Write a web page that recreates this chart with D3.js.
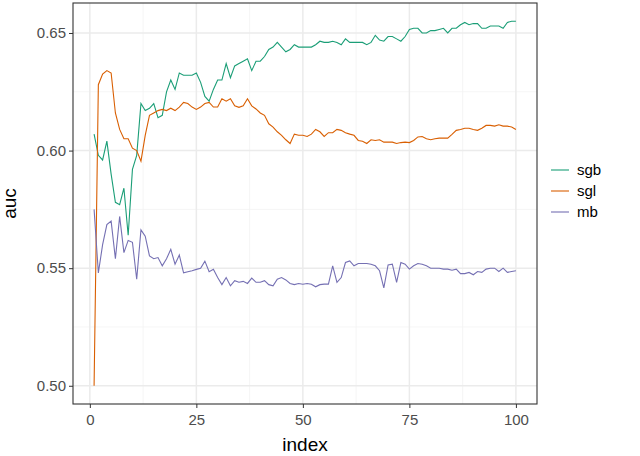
<!DOCTYPE html>
<html><head><meta charset="utf-8">
<script src="https://cdn.jsdelivr.net/npm/d3@7"></script>
<style>body{margin:0;background:#fff}</style></head>
<body><svg id="c" width="640" height="456"></svg>
<script>
const seriesNames = ["sgb","sgl","mb"];
const colors = ["#1B9E77","#D95F02","#7570B3"];
const xTicks = [0,25,50,75,100];
const yTicks = [0.50,0.55,0.60,0.65];
const sgb = [0.607,0.598,0.596,0.604,0.590,0.578,0.577,0.584,0.564,0.592,0.598,0.620,0.617,0.618,0.620,0.614,0.615,0.625,0.630,0.626,0.633,0.632,0.632,0.632,0.633,0.629,0.623,0.621,0.626,0.630,0.630,0.637,
0.631,0.636,0.637,0.638,0.639,0.634,0.638,0.638,0.640,0.643,0.644,0.646,0.644,0.642,0.643,0.645,0.644,0.644,0.644,0.644,0.645,0.6465,0.646,0.646,0.6465,0.646,0.645,0.6475,0.646,0.646,0.646,0.646,0.645,0.646,0.649,0.647,0.6465,0.6485,0.6485,0.6475,0.6465,0.6485,0.6515,0.652,0.652,0.650,0.650,0.651,0.651,0.6515,0.652,0.650,0.652,0.652,0.6535,0.6545,0.6535,0.654,0.654,0.652,0.652,0.653,0.653,0.653,0.652,0.6545,0.655,0.655];
const sgl = [0.500,0.628,0.6325,0.634,0.633,0.616,0.609,0.605,0.605,0.601,0.600,0.5955,0.6065,0.615,0.616,0.617,0.6175,0.617,0.618,0.617,0.6185,0.6205,0.620,0.6185,0.6175,0.6185,0.620,0.6205,0.6185,0.6185,0.622,0.621,
0.622,0.619,0.6184,0.619,0.622,0.619,0.6177,0.616,0.615,0.6114,0.610,0.608,0.6065,0.6046,0.603,0.607,0.6065,0.6065,0.606,0.607,0.609,0.608,0.606,0.6076,0.6076,0.609,0.6086,0.6076,0.607,0.6065,0.6043,0.604,0.603,0.6046,0.6043,0.6046,0.6036,0.6036,0.6036,0.603,0.6034,0.6036,0.6034,0.6043,0.6058,0.606,0.605,0.6046,0.605,0.6053,0.6053,0.6053,0.6069,0.6086,0.609,0.6095,0.6095,0.609,0.6086,0.6095,0.6107,0.6107,0.6104,0.611,0.6104,0.6104,0.610,0.609];
const mb = [0.575,0.548,0.560,0.5685,0.570,0.554,0.572,0.5566,0.5618,0.561,0.5453,0.5663,0.5636,0.5552,0.554,0.5545,0.551,0.554,0.558,0.5517,0.5556,0.548,0.5485,0.5489,0.5495,0.550,0.553,0.5485,0.5495,0.546,0.543,0.546,
0.5425,0.5447,0.544,0.5444,0.5435,0.5458,0.544,0.544,0.5447,0.543,0.5425,0.5453,0.546,0.545,0.5435,0.543,0.5435,0.5432,0.5435,0.5432,0.5421,0.543,0.5432,0.5432,0.551,0.544,0.546,0.5524,0.5531,0.551,0.552,0.552,0.552,0.5517,0.551,0.5489,0.5416,0.5514,0.5517,0.544,0.5524,0.5517,0.5496,0.551,0.552,0.5517,0.551,0.550,0.550,0.550,0.5496,0.5496,0.5491,0.5496,0.5477,0.5477,0.5482,0.5472,0.5486,0.5482,0.5496,0.550,0.550,0.5486,0.550,0.5482,0.5486,0.5489];
const data = [sgb, sgl, mb];

const svg = d3.select("#c");
const L=73,R=537,T=3,B=404;
const x = d3.scaleLinear().domain([-3.95,104.95]).range([L,R]);
const y = d3.scaleLinear().domain([0.49225,0.66275]).range([B,T]);
const g = svg.append("g");
const xMinor = [12.5,37.5,62.5,87.5], yMinor=[0.525,0.575,0.625];
g.selectAll(".vm").data(xMinor).enter().append("line").attr("x1",d=>x(d)).attr("x2",d=>x(d)).attr("y1",T).attr("y2",B).attr("stroke","#f2f2f2").attr("stroke-width",0.8);
g.selectAll(".hm").data(yMinor).enter().append("line").attr("y1",d=>y(d)).attr("y2",d=>y(d)).attr("x1",L).attr("x2",R).attr("stroke","#f2f2f2").attr("stroke-width",0.8);
g.selectAll(".vM").data(xTicks).enter().append("line").attr("x1",d=>x(d)).attr("x2",d=>x(d)).attr("y1",T).attr("y2",B).attr("stroke","#ebebeb").attr("stroke-width",1.5);
g.selectAll(".hM").data(yTicks).enter().append("line").attr("y1",d=>y(d)).attr("y2",d=>y(d)).attr("x1",L).attr("x2",R).attr("stroke","#ebebeb").attr("stroke-width",1.5);

const line = d3.line().x((d,i)=>x(i+1)).y(d=>y(d));
data.forEach((s,k)=>{
  svg.append("path").attr("d",line(s)).attr("fill","none").attr("stroke",colors[k]).attr("stroke-width",1.1);
});
svg.append("rect").attr("x",L).attr("y",T).attr("width",R-L).attr("height",B-T).attr("fill","none").attr("stroke","#333").attr("stroke-width",1.1);

const xa = svg.append("g").attr("transform",`translate(0,${B})`).call(d3.axisBottom(x).tickValues(xTicks).tickSize(4).tickFormat(d3.format("d")));
const ya = svg.append("g").attr("transform",`translate(${L},0)`).call(d3.axisLeft(y).tickValues(yTicks).tickSize(4).tickFormat(d3.format(".2f")));
[xa,ya].forEach(a=>{a.select(".domain").remove();a.selectAll("line").attr("stroke","#333");a.selectAll("text").attr("fill","#4d4d4d").style("font-family","Arial, Liberation Sans, sans-serif").style("font-size","15px");});
xa.selectAll("text").attr("dy","0.95em");

svg.append("text").attr("x",(L+R)/2).attr("y",451).attr("text-anchor","middle").style("font-family","Arial, Liberation Sans, sans-serif").style("font-size","19px").text("index");
svg.append("text").attr("transform",`translate(16,${(T+B)/2}) rotate(-90)`).attr("text-anchor","middle").style("font-family","Arial, Liberation Sans, sans-serif").style("font-size","19px").text("auc");

seriesNames.forEach((n,k)=>{
  const yy = 170 + k*21;
  svg.append("line").attr("x1",551).attr("x2",569).attr("y1",yy).attr("y2",yy).attr("stroke",colors[k]).attr("stroke-width",1.1);
  svg.append("text").attr("x",577).attr("y",yy+5).style("font-family","Arial, Liberation Sans, sans-serif").style("font-size","15px").attr("fill","#000").text(n);
});
</script></body></html>
